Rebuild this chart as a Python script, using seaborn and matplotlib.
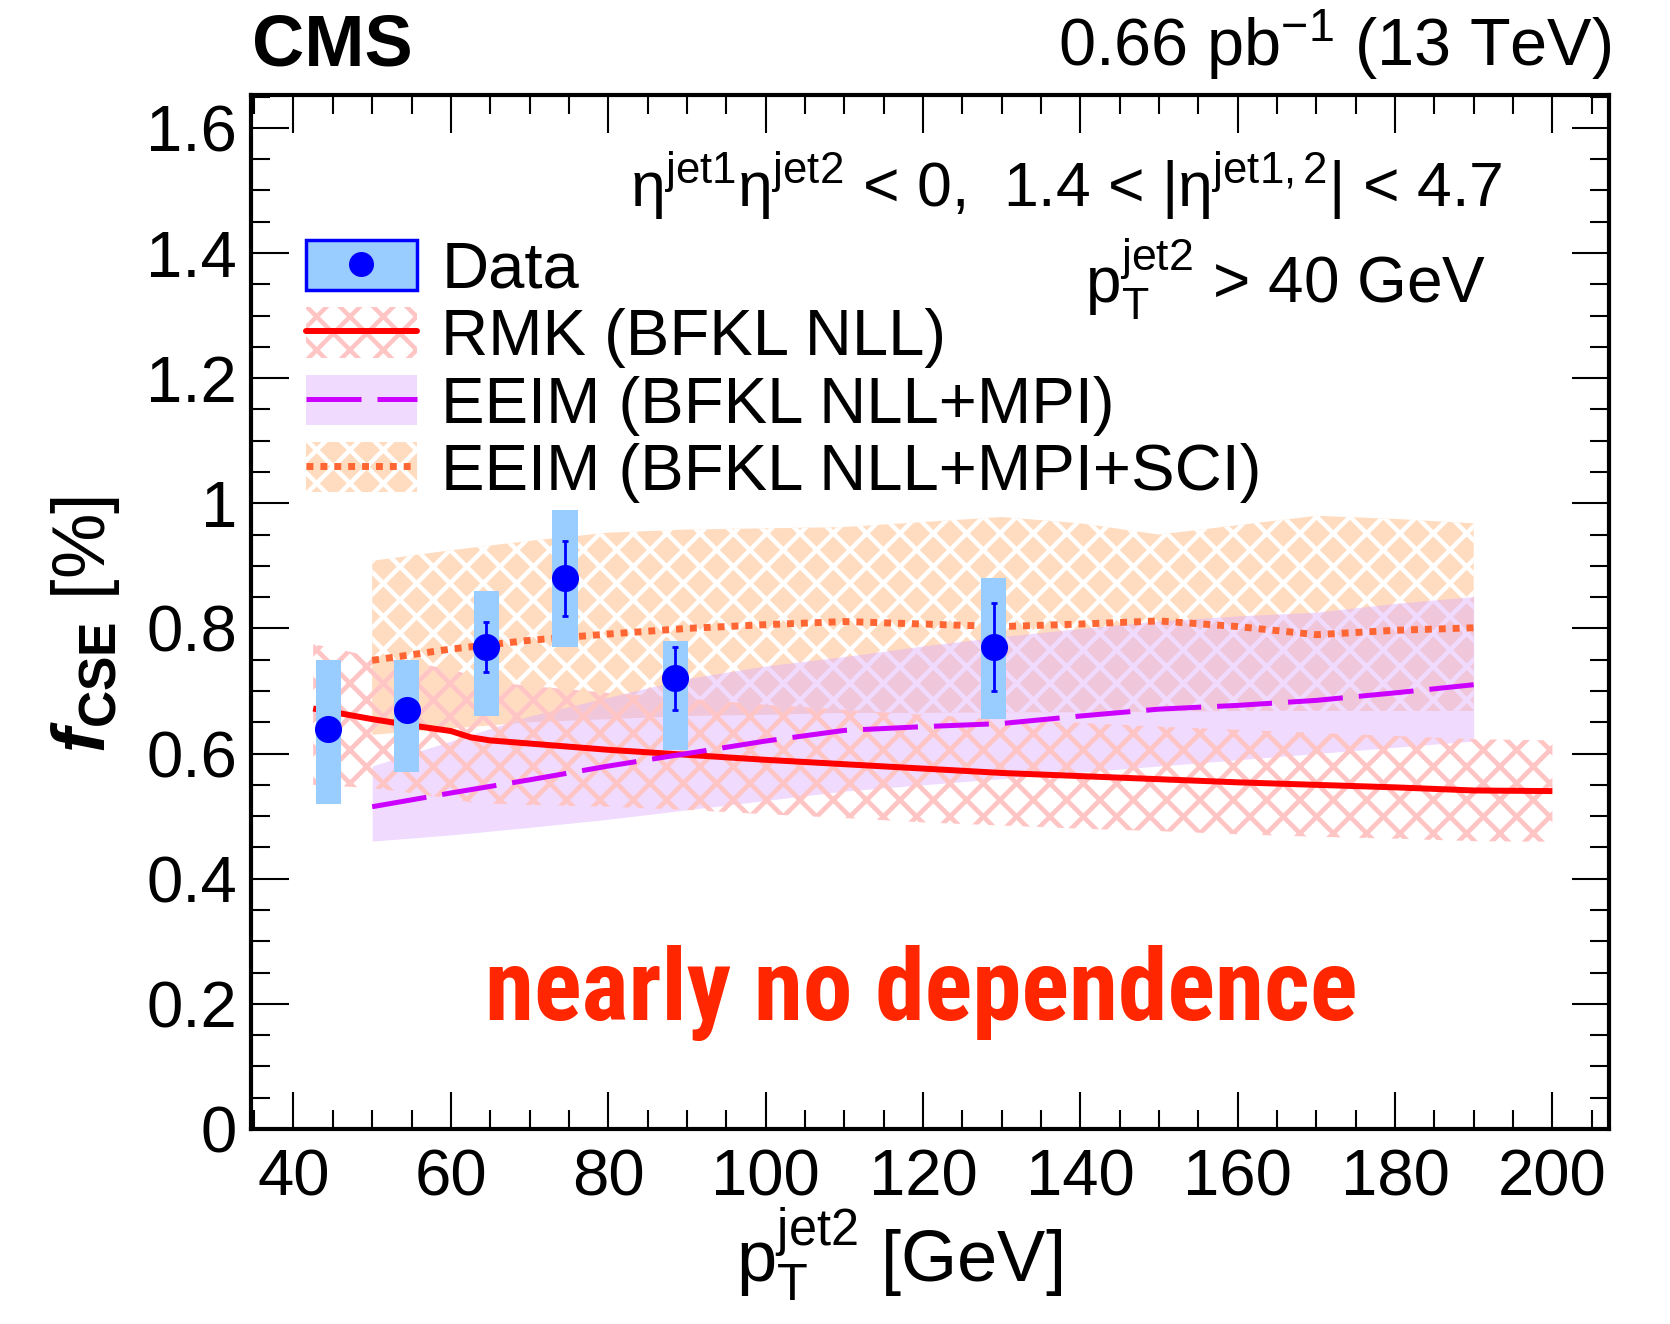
import numpy as np
import pandas as pd
import matplotlib
matplotlib.use("Agg")
import matplotlib.pyplot as plt
import seaborn as sns
from matplotlib import font_manager
from matplotlib.patches import Patch, Rectangle
from matplotlib.lines import Line2D
from matplotlib.ticker import MultipleLocator, FuncFormatter

# ---------------- data ----------------
data_pt = [44.4, 54.4, 64.5, 74.5, 88.5, 129.0]
data_f = [0.64, 0.67, 0.77, 0.88, 0.72, 0.77]
data_stat = [0.015, 0.015, 0.04, 0.06, 0.05, 0.07]
data_syst_up = [0.11, 0.08, 0.09, 0.11, 0.06, 0.11]
data_syst_dn = [0.12, 0.10, 0.11, 0.11, 0.115, 0.115]

rmk_pt = [42.5, 50, 55, 60, 62.5, 65, 70, 80, 90, 100, 110, 120, 130, 140, 150, 160, 170, 180, 190, 200]
rmk_f = [0.672, 0.655, 0.645, 0.636, 0.626, 0.621, 0.616, 0.606, 0.598, 0.590, 0.583, 0.576, 0.569, 0.564, 0.559, 0.554, 0.550, 0.546, 0.541, 0.540]
rmk_up = [0.775, 0.755, 0.745, 0.735, 0.725, 0.715, 0.708, 0.697, 0.688, 0.678, 0.670, 0.662, 0.655, 0.649, 0.643, 0.638, 0.633, 0.628, 0.623, 0.621]
rmk_dn = [0.550, 0.545, 0.537, 0.528, 0.522, 0.520, 0.518, 0.515, 0.510, 0.503, 0.497, 0.490, 0.485, 0.480, 0.476, 0.471, 0.467, 0.464, 0.460, 0.459]

eeim_pt = [50, 60, 70, 80, 90, 100, 110, 120, 130, 140, 150, 160, 170, 180, 190]
eeim_f = [0.515, 0.537, 0.558, 0.580, 0.600, 0.620, 0.637, 0.643, 0.648, 0.660, 0.671, 0.677, 0.685, 0.697, 0.710]
eeim_up = [0.580, 0.620, 0.660, 0.690, 0.720, 0.740, 0.755, 0.772, 0.787, 0.800, 0.812, 0.820, 0.826, 0.840, 0.851]
eeim_dn = [0.460, 0.470, 0.482, 0.495, 0.510, 0.525, 0.540, 0.550, 0.560, 0.570, 0.580, 0.590, 0.600, 0.610, 0.620]

sci_pt = [50, 60, 70, 80, 90, 100, 110, 120, 130, 140, 150, 160, 170, 180, 190]
sci_f = [0.749, 0.767, 0.781, 0.791, 0.800, 0.806, 0.811, 0.807, 0.803, 0.807, 0.812, 0.803, 0.790, 0.797, 0.801]
sci_up = [0.908, 0.925, 0.940, 0.953, 0.958, 0.960, 0.962, 0.970, 0.978, 0.968, 0.950, 0.965, 0.980, 0.975, 0.968]
sci_dn = [0.630, 0.640, 0.650, 0.655, 0.660, 0.662, 0.665, 0.665, 0.666, 0.666, 0.667, 0.668, 0.668, 0.668, 0.668]

x_ticks = [40, 60, 80, 100, 120, 140, 160, 180, 200]
y_ticks = [0, 0.2, 0.4, 0.6, 0.8, 1.0, 1.2, 1.4, 1.6]
legend_labels = ["Data", "RMK (BFKL NLL)", "EEIM (BFKL NLL+MPI)", "EEIM (BFKL NLL+MPI+SCI)"]

df_data = pd.DataFrame({"pt": data_pt, "f": data_f})
df_rmk = pd.DataFrame({"pt": rmk_pt, "f": rmk_f})
df_eeim = pd.DataFrame({"pt": eeim_pt, "f": eeim_f})
df_sci = pd.DataFrame({"pt": sci_pt, "f": sci_f})

# ---------------- style ----------------
sns.set_theme(style="ticks")
plt.rcParams["font.family"] = ["Liberation Sans", "DejaVu Sans"]
plt.rcParams["mathtext.fontset"] = "custom"
plt.rcParams["mathtext.rm"] = "Liberation Sans"
plt.rcParams["mathtext.it"] = "Liberation Sans:italic"
plt.rcParams["mathtext.bf"] = "Liberation Sans:bold"
plt.rcParams["mathtext.bfit"] = "Liberation Sans:bold:italic"
plt.rcParams["text.color"] = "black"
plt.rcParams["axes.labelcolor"] = "black"
plt.rcParams["xtick.color"] = "black"
plt.rcParams["ytick.color"] = "black"

C_BLUE = "#0000ff"
C_SYST = "#99ccff"
C_RED = "#ff0000"
C_PINK = "#ffc4c4"
C_VIOL = "#cc00ff"
C_VIOL_BAND = "#dcaaff"
C_ORANGE = "#ff6633"
C_ORANGE_BAND = "#ffdcc0"

fig = plt.figure(figsize=(16.7, 13.24), dpi=100)
ax = fig.add_axes([0.1503, 0.1473, 0.8132, 0.7807])

# ---------------- bands ----------------
plt.rcParams["hatch.linewidth"] = 3.2
ax.fill_between(sci_pt, sci_dn, sci_up, facecolor=C_ORANGE_BAND, edgecolor="white",
                hatch="x", linewidth=0, zorder=1)
ax.fill_between(eeim_pt, eeim_dn, eeim_up, facecolor=C_VIOL_BAND, alpha=0.42,
                linewidth=0, zorder=2)
plt.rcParams["hatch.linewidth"] = 3.4
ax.fill_between(rmk_pt, rmk_dn, rmk_up, facecolor="none", edgecolor=C_PINK,
                hatch="x", linewidth=0, zorder=3)

# ---------------- theory lines ----------------
sns.lineplot(data=df_rmk, x="pt", y="f", ax=ax, color=C_RED, linewidth=4.3, zorder=5)
sns.lineplot(data=df_eeim, x="pt", y="f", ax=ax, color=C_VIOL, linewidth=3.6,
             linestyle=(0, (11, 3.2)), zorder=5)
sns.lineplot(data=df_sci, x="pt", y="f", ax=ax, color=C_ORANGE, linewidth=5,
             linestyle=(0, (1, 1)), zorder=5)
for ln in ax.lines:
    ln.set_solid_capstyle("butt")
    ln.set_dash_capstyle("butt")

# ---------------- data ----------------
box_w = 3.2
ax.bar(data_pt, np.array(data_syst_up) + np.array(data_syst_dn), width=box_w,
       bottom=np.array(data_f) - np.array(data_syst_dn), color=C_SYST, linewidth=0, zorder=6)
ax.errorbar(data_pt, data_f, yerr=data_stat, fmt="none", ecolor=C_BLUE, elinewidth=2,
            capsize=2.5, capthick=2, zorder=7)
sns.scatterplot(data=df_data, x="pt", y="f", ax=ax, color=C_BLUE, s=380, marker="o",
                edgecolor=C_BLUE, linewidth=0, zorder=8)

# ---------------- axes ----------------
ax.set_xlim(34.6, 207.2)
ax.set_ylim(0, 1.652)
ax.set_xticks(x_ticks)
ax.set_yticks(y_ticks)
ax.xaxis.set_minor_locator(MultipleLocator(5))
ax.yaxis.set_minor_locator(MultipleLocator(0.05))
ax.yaxis.set_major_formatter(FuncFormatter(lambda v, p: "%g" % round(v, 3)))
ax.tick_params(which="both", direction="in", top=True, right=True, width=1.5,
               labelsize=47, colors="black")
ax.tick_params(which="major", length=27, pad=10)
ax.tick_params(which="minor", length=14)
ax.tick_params(axis="x", which="major", pad=14)
for sp in ax.spines.values():
    sp.set_linewidth(3)
    sp.set_color("black")
    sp.set_visible(True)
ax.set_xlabel("")
ax.set_ylabel("")

# axis titles
fig.text(899 / 1670, 1 - 1282 / 1324, r"p$_{\mathrm{T}}^{\mathrm{jet2}}$ [GeV]", fontsize=52,
         ha="center", va="baseline")
fig.text(86 / 1670, 1 - 625 / 1324, r"$\mathbfit{f}_{\mathbf{CSE}}$ [%]", fontsize=53,
         ha="center", va="center", rotation=90)

# headers
fig.text(252 / 1670, 1 - 66 / 1324, "CMS", fontsize=52, fontweight="bold",
         ha="left", va="baseline")
fig.text(1611 / 1670, 1 - 66 / 1324, r"0.66 pb$^{-1}$ (13 TeV)", fontsize=48,
         ha="right", va="baseline")

# selection text
fig.text(1502 / 1670, 1 - 207 / 1324,
         r"η$^{\mathrm{jet1}}$η$^{\mathrm{jet2}}$ < 0,  1.4 < |η$^{\mathrm{jet1,2}}$| < 4.7",
         fontsize=45, ha="right", va="baseline")
fig.text(1486 / 1670, 1 - 303 / 1324, r"p$_{\mathrm{T}}^{\mathrm{jet2}}$ > 40 GeV",
         fontsize=46, ha="right", va="baseline")

# big annotation: pick a condensed bold face if one is installed, fit to width
names = {f.name for f in font_manager.fontManager.ttflist}
fam = "Liberation Sans"
for cand in ["Liberation Sans Narrow", "DejaVu Sans Condensed", "Roboto Condensed",
             "Open Sans Condensed", "Noto Sans Condensed"]:
    if cand in names:
        fam = cand
        break
ann = fig.text(921 / 1670, 1 - 1020 / 1324, "nearly no dependence", fontsize=68,
               fontweight="bold", family=[fam, "DejaVu Sans"],
               color="#ff2600", ha="center", va="baseline")
renderer = fig.canvas.get_renderer()
w = ann.get_window_extent(renderer).width
ann.set_fontsize(68 * 873.0 / w)

# ---------------- legend ----------------
h_data = (Rectangle((0, 0), 1, 1, facecolor=C_SYST, edgecolor=C_BLUE, linewidth=2.5),
          Line2D([], [], marker="o", color=C_BLUE, linestyle="none", markersize=17))
plt.rcParams["hatch.linewidth"] = 3.2
h_rmk = (Patch(facecolor="none", edgecolor=C_PINK, hatch="x", linewidth=0),
         Line2D([], [], color=C_RED, linewidth=4.3))
h_eeim = (Patch(facecolor=C_VIOL_BAND, alpha=0.42, linewidth=0),
          Line2D([], [], color=C_VIOL, linewidth=3.6, linestyle=(0, (11, 3.2))))
h_sci = (Patch(facecolor=C_ORANGE_BAND, edgecolor="white", hatch="x", linewidth=0),
         Line2D([], [], color=C_ORANGE, linewidth=5, linestyle=(0, (1, 1))))
leg = ax.legend([h_data, h_rmk, h_eeim, h_sci], legend_labels,
                loc="upper left", bbox_to_anchor=(306 / 1670, 1 - 240 / 1324),
                bbox_transform=fig.transFigure, frameon=False, fontsize=47,
                handlelength=1.7, handleheight=0.81, handletextpad=0.375,
                labelspacing=0.1, borderpad=0, borderaxespad=0)

fig.savefig("out.png", dpi=100)
